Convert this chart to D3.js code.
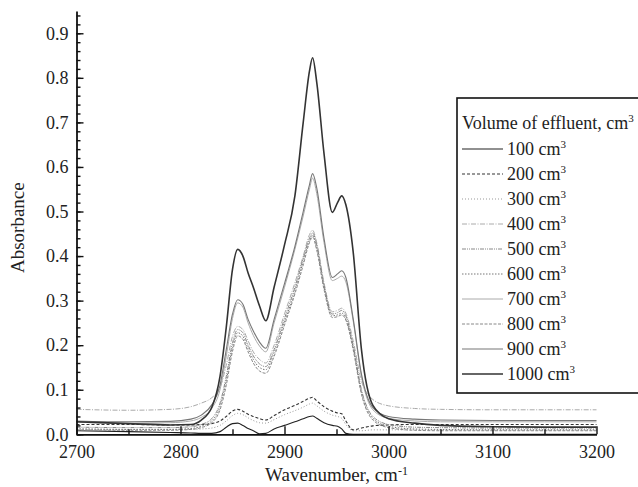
<!DOCTYPE html>
<html>
<head>
<meta charset="utf-8">
<script src="https://cdn.jsdelivr.net/npm/d3@7"></script>
<style>
  html, body { margin: 0; padding: 0; background: #fff; }
  #chart { width: 638px; height: 487px; overflow: hidden; }
</style>
</head>
<body>
<div id="chart"></div>
<script>
const wavenumbers = [2700, 2750, 2790, 2810, 2820, 2830, 2838, 2844, 2850, 2855, 2860, 2865, 2870, 2876, 2882, 2890, 2900, 2910, 2918, 2924, 2927, 2931, 2938, 2946, 2951, 2955, 2959, 2966, 2974, 2985, 3000, 3025, 3050, 3100, 3150, 3200];

// absorbance for each volume of effluent
const abs100 = [0.008, 0.006, 0.004, 0.003, 0.002, 0.002, 0.006, 0.016, 0.024, 0.025, 0.020, 0.013, 0.008, 0.001, 0.002, 0.012, 0.020, 0.028, 0.035, 0.040, 0.041, 0.036, 0.026, 0.020, 0.018, 0.012, 0.002, 0.000, 0.000, 0.000, 0.000, 0.000, 0.000, 0.000, 0.000, 0.000];
const abs200 = [0.022, 0.022, 0.021, 0.021, 0.022, 0.024, 0.030, 0.040, 0.052, 0.056, 0.052, 0.045, 0.040, 0.035, 0.032, 0.042, 0.055, 0.065, 0.074, 0.081, 0.083, 0.075, 0.062, 0.052, 0.048, 0.046, 0.030, 0.010, 0.014, 0.019, 0.021, 0.022, 0.022, 0.022, 0.022, 0.022];
const abs300 = [0.012, 0.011, 0.011, 0.011, 0.012, 0.014, 0.020, 0.030, 0.042, 0.047, 0.044, 0.037, 0.031, 0.026, 0.025, 0.033, 0.044, 0.053, 0.061, 0.068, 0.070, 0.064, 0.052, 0.043, 0.040, 0.036, 0.022, 0.008, 0.008, 0.010, 0.010, 0.010, 0.010, 0.010, 0.010, 0.010];
const abs400 = [0.056, 0.054, 0.056, 0.062, 0.070, 0.082, 0.105, 0.155, 0.220, 0.242, 0.235, 0.210, 0.185, 0.168, 0.160, 0.200, 0.270, 0.340, 0.400, 0.448, 0.458, 0.430, 0.340, 0.275, 0.278, 0.283, 0.272, 0.210, 0.120, 0.078, 0.064, 0.058, 0.056, 0.055, 0.055, 0.055];
const abs500 = [0.016, 0.015, 0.015, 0.017, 0.022, 0.035, 0.070, 0.130, 0.205, 0.235, 0.228, 0.200, 0.176, 0.158, 0.152, 0.190, 0.260, 0.330, 0.395, 0.440, 0.452, 0.425, 0.335, 0.270, 0.273, 0.278, 0.266, 0.200, 0.100, 0.040, 0.022, 0.016, 0.015, 0.014, 0.014, 0.014];
const abs600 = [0.012, 0.011, 0.011, 0.013, 0.018, 0.030, 0.062, 0.120, 0.195, 0.228, 0.220, 0.192, 0.168, 0.150, 0.145, 0.183, 0.252, 0.322, 0.388, 0.435, 0.447, 0.418, 0.330, 0.266, 0.268, 0.272, 0.260, 0.195, 0.095, 0.036, 0.018, 0.012, 0.011, 0.010, 0.010, 0.010];
const abs700 = [0.027, 0.025, 0.026, 0.030, 0.038, 0.058, 0.100, 0.175, 0.260, 0.295, 0.285, 0.250, 0.222, 0.198, 0.185, 0.250, 0.330, 0.415, 0.490, 0.550, 0.575, 0.540, 0.430, 0.345, 0.350, 0.355, 0.342, 0.255, 0.130, 0.055, 0.036, 0.030, 0.028, 0.028, 0.028, 0.028];
const abs800 = [0.010, 0.009, 0.009, 0.011, 0.015, 0.026, 0.055, 0.110, 0.186, 0.221, 0.213, 0.185, 0.160, 0.142, 0.137, 0.175, 0.245, 0.315, 0.380, 0.430, 0.443, 0.413, 0.325, 0.262, 0.264, 0.268, 0.256, 0.190, 0.090, 0.032, 0.015, 0.009, 0.008, 0.008, 0.008, 0.008];
const abs900 = [0.030, 0.028, 0.029, 0.034, 0.043, 0.066, 0.110, 0.190, 0.270, 0.302, 0.292, 0.258, 0.232, 0.207, 0.193, 0.258, 0.338, 0.422, 0.500, 0.560, 0.585, 0.553, 0.440, 0.352, 0.360, 0.367, 0.352, 0.260, 0.135, 0.060, 0.040, 0.034, 0.032, 0.031, 0.031, 0.031];
const abs1000 = [0.028, 0.024, 0.021, 0.022, 0.032, 0.060, 0.130, 0.240, 0.370, 0.415, 0.400, 0.362, 0.330, 0.288, 0.255, 0.330, 0.425, 0.535, 0.700, 0.815, 0.845, 0.790, 0.630, 0.498, 0.520, 0.535, 0.515, 0.410, 0.190, 0.065, 0.035, 0.025, 0.020, 0.017, 0.016, 0.016];

const volumes = [100, 200, 300, 400, 500, 600, 700, 800, 900, 1000];
const spectra = [abs100, abs200, abs300, abs400, abs500, abs600, abs700, abs800, abs900, abs1000];

const xTicks = [2700, 2800, 2900, 3000, 3100, 3200];
const yTicks = [0, 0.1, 0.2, 0.3, 0.4, 0.5, 0.6, 0.7, 0.8, 0.9];

// line look per series (same order as volumes)
const lineStyles = [
  { color: "#222", width: 1.1, dash: null },
  { color: "#333", width: 1.1, dash: "3,2" },
  { color: "#999", width: 1.0, dash: "1,2" },
  { color: "#aaa", width: 1.0, dash: "5,1.5,1,1.5" },
  { color: "#888", width: 1.0, dash: "4,1,1,1,1,1" },
  { color: "#777", width: 1.0, dash: "1.5,1.5" },
  { color: "#aaa", width: 1.0, dash: null },
  { color: "#888", width: 1.0, dash: "3,1.5" },
  { color: "#777", width: 1.1, dash: null },
  { color: "#333", width: 1.6, dash: null }
];

const serif = "Liberation Serif";

const width = 638, height = 487;
const margin = { left: 76.5, right: 41.5, top: 11, bottom: 52.7 };

const svg = d3.select("#chart").append("svg")
  .attr("width", width)
  .attr("height", height)
  .attr("font-family", serif);

const x = d3.scaleLinear().domain([2700, 3200]).range([margin.left, width - margin.right]);
const y = d3.scaleLinear().domain([0, 0.95]).range([height - margin.bottom, margin.top]);

// spectra
const line = d3.line()
  .x((d, i) => x(wavenumbers[i]))
  .y(d => y(d))
  .curve(d3.curveMonotoneX);

const plot = svg.append("g");
spectra.forEach((s, k) => {
  const st = lineStyles[k];
  plot.append("path")
    .datum(s)
    .attr("d", line)
    .attr("fill", "none")
    .attr("stroke", st.color)
    .attr("stroke-width", st.width)
    .attr("stroke-dasharray", st.dash);
});

// axes (ticks point inward)
const yMinor = svg.append("g")
  .attr("transform", `translate(${margin.left},0)`)
  .call(d3.axisLeft(y).tickValues(d3.range(0, 0.95, 0.02)).tickSize(-4).tickFormat(""));
yMinor.select(".domain").remove();

const yAxis = svg.append("g")
  .attr("transform", `translate(${margin.left},0)`)
  .call(d3.axisLeft(y).tickValues(yTicks).tickSizeInner(-7).tickSizeOuter(0)
    .tickPadding(8).tickFormat(d3.format(".1f")));

const xMinor = svg.append("g")
  .attr("transform", `translate(0,${y(0)})`)
  .call(d3.axisBottom(x).tickValues(d3.range(2750, 3200, 100)).tickSize(-5).tickFormat(""));
xMinor.select(".domain").remove();

const xAxis = svg.append("g")
  .attr("transform", `translate(0,${y(0)})`)
  .call(d3.axisBottom(x).tickValues(xTicks).tickSizeInner(-8).tickSizeOuter(0)
    .tickPadding(11).tickFormat(d3.format("d")));

svg.selectAll("g").attr("font-family", serif).attr("font-size", 18);
svg.selectAll(".domain").attr("stroke", "#111").attr("stroke-width", 1.8);
svg.selectAll(".tick line").attr("stroke", "#111").attr("stroke-width", 1.4);
svg.selectAll(".tick text").attr("fill", "#222");

// axis titles
const xTitle = svg.append("text")
  .attr("x", (x.range()[0] + x.range()[1]) / 2)
  .attr("y", 481)
  .attr("text-anchor", "middle")
  .attr("font-size", 19)
  .attr("fill", "#222")
  .text("Wavenumber, cm");
xTitle.append("tspan")
  .attr("dy", -6)
  .attr("font-size", 12)
  .text("-1");

svg.append("text")
  .attr("transform", `translate(24,${(y.range()[0] + y.range()[1]) / 2 + 5}) rotate(-90)`)
  .attr("text-anchor", "middle")
  .attr("font-size", 19)
  .attr("fill", "#222")
  .text("Absorbance");

// legend
const legend = svg.append("g").attr("transform", "translate(457,98)");
legend.append("rect")
  .attr("width", 190)
  .attr("height", 295)
  .attr("fill", "#fff")
  .attr("stroke", "#111")
  .attr("stroke-width", 1.6);

const legTitle = legend.append("text")
  .attr("x", 5)
  .attr("y", 31)
  .attr("font-size", 18)
  .attr("fill", "#222")
  .text("Volume of effluent, cm");
legTitle.append("tspan").attr("dy", -7).attr("font-size", 11).text("3");

volumes.forEach((v, k) => {
  const st = lineStyles[k];
  const cy = 51 + k * 25;
  legend.append("line")
    .attr("x1", 5).attr("x2", 46)
    .attr("y1", cy).attr("y2", cy)
    .attr("stroke", st.color)
    .attr("stroke-width", st.width)
    .attr("stroke-dasharray", st.dash);
  const t = legend.append("text")
    .attr("x", 50)
    .attr("y", cy + 6)
    .attr("font-size", 18)
    .attr("fill", "#222")
    .text(`${v} cm`);
  t.append("tspan").attr("dy", -7).attr("font-size", 11).text("3");
});
</script>
</body>
</html>
